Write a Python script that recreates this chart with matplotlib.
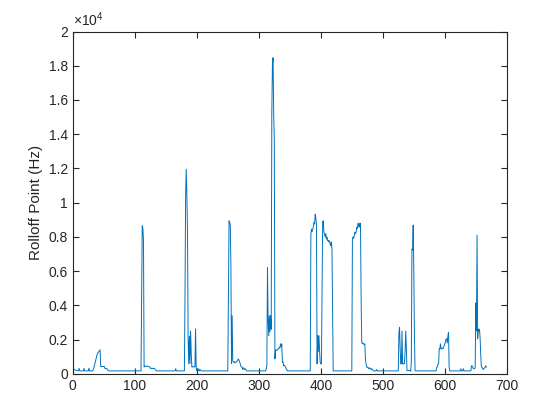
import matplotlib
matplotlib.use('Agg')
import matplotlib.pyplot as plt
import numpy as np

# rolloff point per frame (Hz)
rolloff = (
    [290, 270, 250, 240, 220, 200, 190, 180, 180, 180]
    + [320, 180, 170, 170, 170, 170, 170, 170, 320, 170]
    + [170, 170, 170, 170, 170, 170, 330, 170, 170, 170]
    + [170, 170, 170, 250, 350, 500, 650, 800, 950, 1100]
    + [1200, 1250, 1300, 1350, 1400, 430, 430, 420, 420, 430]
    + [430, 420, 300, 300, 310, 300, 250, 180, 170, 170]
    + [170] * 40
    + [170, 250, 170, 170, 170, 170, 170, 170, 170, 170]
    + [170, 4370, 8650, 8500, 7770, 400, 450, 450, 430, 450]
    + [440, 450, 430, 420, 400, 330, 300, 330, 320, 300,
       330, 310, 300, 250, 200, 170, 170, 170, 170, 170]
    + [170] * 26 + [300] + [170] * 13
    + [170, 4660, 10500, 11950, 10400, 8350, 2040, 580, 2200, 600,
       2500, 1200, 400, 420, 400, 400, 420, 400, 2620, 400]
    + [180, 250, 300, 200, 170, 270, 200, 170, 170, 170, 170]
    + [170] * 40
    + [4860, 8940, 8840, 8700, 6300, 600, 3400, 750, 700]
    + [650, 700, 650, 680, 700, 750, 800, 870, 800, 700, 600,
       450, 400, 400, 250, 350, 300, 250, 300, 250, 200, 170]
    + [170] * 30
    + [290, 490, 6200, 3200, 2230, 3400, 2450, 3400, 2600,
       15260, 18080, 18470, 15200, 13700]
    + [870, 1360, 1400, 1360, 1400, 1450, 1460, 1550, 1500, 1750,
       1600, 1750, 680, 700, 470, 500, 470, 400, 300, 250]
    + [170] * 38
    + [8160, 8450, 8300, 8450, 8600, 8840, 8750, 9330, 9100, 8750]
    + [580, 2230, 1300, 2230, 1360, 680, 580, 580, 4570, 8880,
       8940, 8300, 8160, 8000, 8200, 7870, 7980, 7770, 7800, 7700,
       7770, 7600, 7480, 7700, 7290, 3790]
    + [170] * 31
    + [7870, 8000, 7900, 8100, 8270, 8200, 8300, 8550, 8500, 8800,
       8600, 8800, 8550, 8800, 4570, 1850, 1750, 1800, 1750, 1700,
       1750, 870, 580]
    + [400, 380, 390, 300, 300, 350, 300, 250, 300, 250, 200,
       170, 170, 170, 170, 170, 250]
    + [170] * 35
    + [2430, 2720, 1460, 580, 580, 2500, 580, 600, 580, 600,
       1360, 2500, 1460, 190, 190, 190, 190, 190, 190, 150,
       700, 7290, 7230, 8690, 6020, 2330, 190]
    + [170] * 34
    + [390, 400, 580, 600, 1460, 1460, 1750, 1460, 1460, 1500,
       1460, 1550, 1650, 1750, 1850, 2040, 2040, 1800, 2200, 2430, 390]
    + [170] * 18 + [300] + [170] * 3 + [300] + [170] * 12
    + [470, 470, 400, 300, 300, 300, 350, 4140, 2500, 8100,
       2040, 2620, 2500, 2600, 2040, 1070, 400, 390, 300, 250,
       300, 350, 350, 470, 400]
)

y_ticks = [0, 2000, 4000, 6000, 8000, 10000, 12000, 14000, 16000, 18000, 20000]
y_tick_labels = ['0', '0.2', '0.4', '0.6', '0.8', '1', '1.2', '1.4', '1.6', '1.8', '2']
x_ticks = [0, 100, 200, 300, 400, 500, 600, 700]

plt.rcParams['font.family'] = ['Liberation Sans', 'DejaVu Sans']
plt.rcParams['mathtext.fontset'] = 'custom'
plt.rcParams['mathtext.rm'] = 'Liberation Sans'

fig = plt.figure(figsize=(5.6, 4.2), dpi=100)
ax = fig.add_axes([0.13, 0.11, 0.775, 0.815])

frames = np.arange(len(rolloff))
ax.plot(frames, rolloff, color='#0072BD', linewidth=0.7)

ax.set_xlim(0, 700)
ax.set_ylim(0, 20000)
ax.set_xticks(x_ticks)
ax.set_yticks(y_ticks)
ax.set_yticklabels(y_tick_labels)
ax.set_ylabel('Rolloff Point (Hz)', fontsize=11, color='#262626')

ax.tick_params(direction='in', top=True, right=True, length=4, width=0.8,
               labelsize=10, colors='#262626')
for s in ax.spines.values():
    s.set_color('#262626')
    s.set_linewidth(0.8)

ax.text(0.0, 1.008, r'$\times\mathregular{10^{4}}$', transform=ax.transAxes,
        fontsize=10, color='#262626', ha='left', va='bottom')

fig.savefig('out.png', dpi=100)
